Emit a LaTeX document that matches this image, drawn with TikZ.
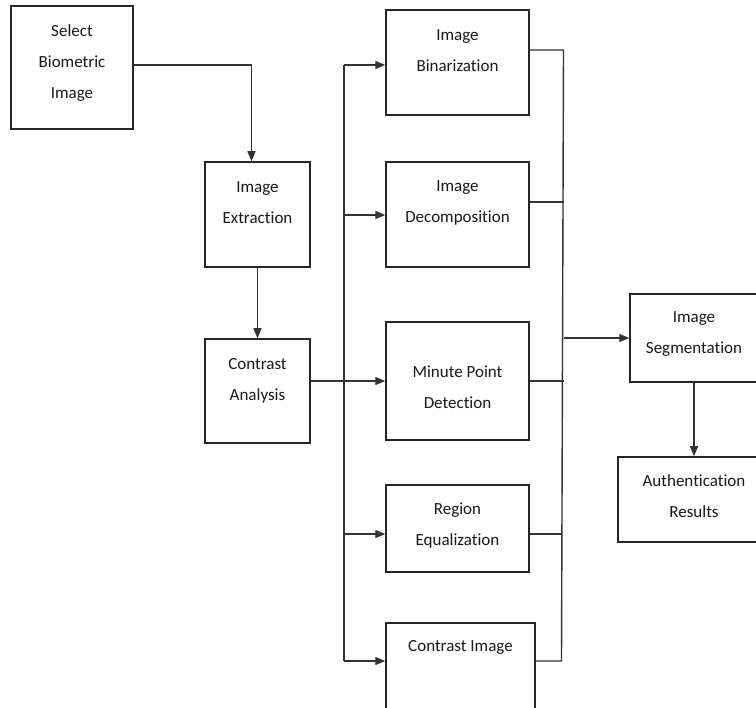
\documentclass[tikz,border=0pt]{standalone}
\usepackage{fontspec}
\setmainfont[Ligatures=NoCommon]{Carlito}
\usetikzlibrary{arrows.meta, positioning, calc}

\tikzset{
  box/.style={draw=black!85, line width=1.5pt, inner sep=0pt},
  lbl/.style={align=center, inner sep=0pt, text=black!90, font=\fontsize{17}{31}\selectfont},
  link/.style={draw=black!80, line width=1.4pt},
  arr/.style={link, -{Triangle[length=10pt, width=8pt]}}
}

\begin{document}
\begin{tikzpicture}[x=1pt, y=-1pt]
  \useasboundingbox (0,0) rectangle (756,708);
  \clip (0,0) rectangle (756,708);

  % boxes
  \node[box, minimum width=122pt, minimum height=123pt] (sel) at (72,67.5) {};
  \node[box, minimum width=105pt, minimum height=105pt] (extr) at (257.5,214.5) {};
  \node[box, minimum width=105pt, minimum height=104pt] (contr) at (257.5,391) {};
  \node[box, minimum width=143pt, minimum height=105pt] (bin) at (457.5,62.5) {};
  \node[box, minimum width=143pt, minimum height=105pt] (dec) at (457.5,214.5) {};
  \node[box, minimum width=143pt, minimum height=118pt] (minute) at (457.5,381) {};
  \node[box, minimum width=143pt, minimum height=87pt] (reg) at (457.5,528.5) {};
  \node[box, minimum width=149pt, minimum height=100pt] (cimg) at (460.5,673) {};
  \node[box, minimum width=128pt, minimum height=88pt] (seg) at (694,338) {};
  \node[box, minimum width=152pt, minimum height=85pt] (auth) at (694,499.5) {};

  % texts
  \node[lbl] (sel-t) at (72,63.5) {Select\\Biometric\\Image};
  \node[lbl] (extr-t) at (257.5,202.5) {Image\\Extraction};
  \node[lbl] (contr-t) at (257.5,380.5) {Contrast\\Analysis};
  \node[lbl] (bin-t) at (457.5,50.5) {Image\\Binarization};
  \node[lbl] (dec-t) at (457.5,202.5) {Image\\Decomposition};
  \node[lbl] (minute-t) at (457.5,387.5) {Minute Point\\Detection};
  \node[lbl] (reg-t) at (457.5,525.5) {Region\\Equalization};
  \node[lbl] (cimg-t) at (460.5,647) {Contrast Image};
  \node[lbl] (seg-t) at (694,334.5) {Image\\Segmentation};
  \node[lbl] (auth-t) at (694,496.5) {Authentication\\Results};

  % bus points
  \coordinate (ltop) at (344,65);
  \coordinate (lbot) at (344,661);
  \coordinate (tap-dec) at (344,215);
  \coordinate (tap-reg) at (344,534);
  \coordinate (rtop) at (563.5,50);
  \coordinate (rbot) at (561.5,661);
  \coordinate (join-dec) at (563.5,202);

  % left part
  \draw[arr] (sel.east |- ltop) -| ([xshift=-6pt]extr.north);
  \draw[arr] (extr) -- (contr);
  \draw[arr] (contr.east |- minute.west) -- (minute.west);

  % fan out
  \draw[link] (ltop) -- (lbot);
  \draw[arr] (ltop) -- (ltop -| bin.west);
  \draw[arr] (tap-dec) -- (tap-dec -| dec.west);
  \draw[arr] (tap-reg) -- (tap-reg -| reg.west);
  \draw[arr] (lbot) -- (lbot -| cimg.west);

  % fan in
  \draw[link] (bin.east |- rtop) -- (rtop) -- (rbot) -- (rbot -| cimg.east);
  \draw[link] (dec.east |- join-dec) -- (join-dec);
  \draw[link] (minute.east) -- (minute.east -| rtop);
  \draw[link] (reg.east |- tap-reg) -- (tap-reg -| rbot);
  \draw[arr] (seg.west -| rtop) -- (seg.west);
  \draw[arr] (seg) -- (auth);
\end{tikzpicture}
\end{document}
